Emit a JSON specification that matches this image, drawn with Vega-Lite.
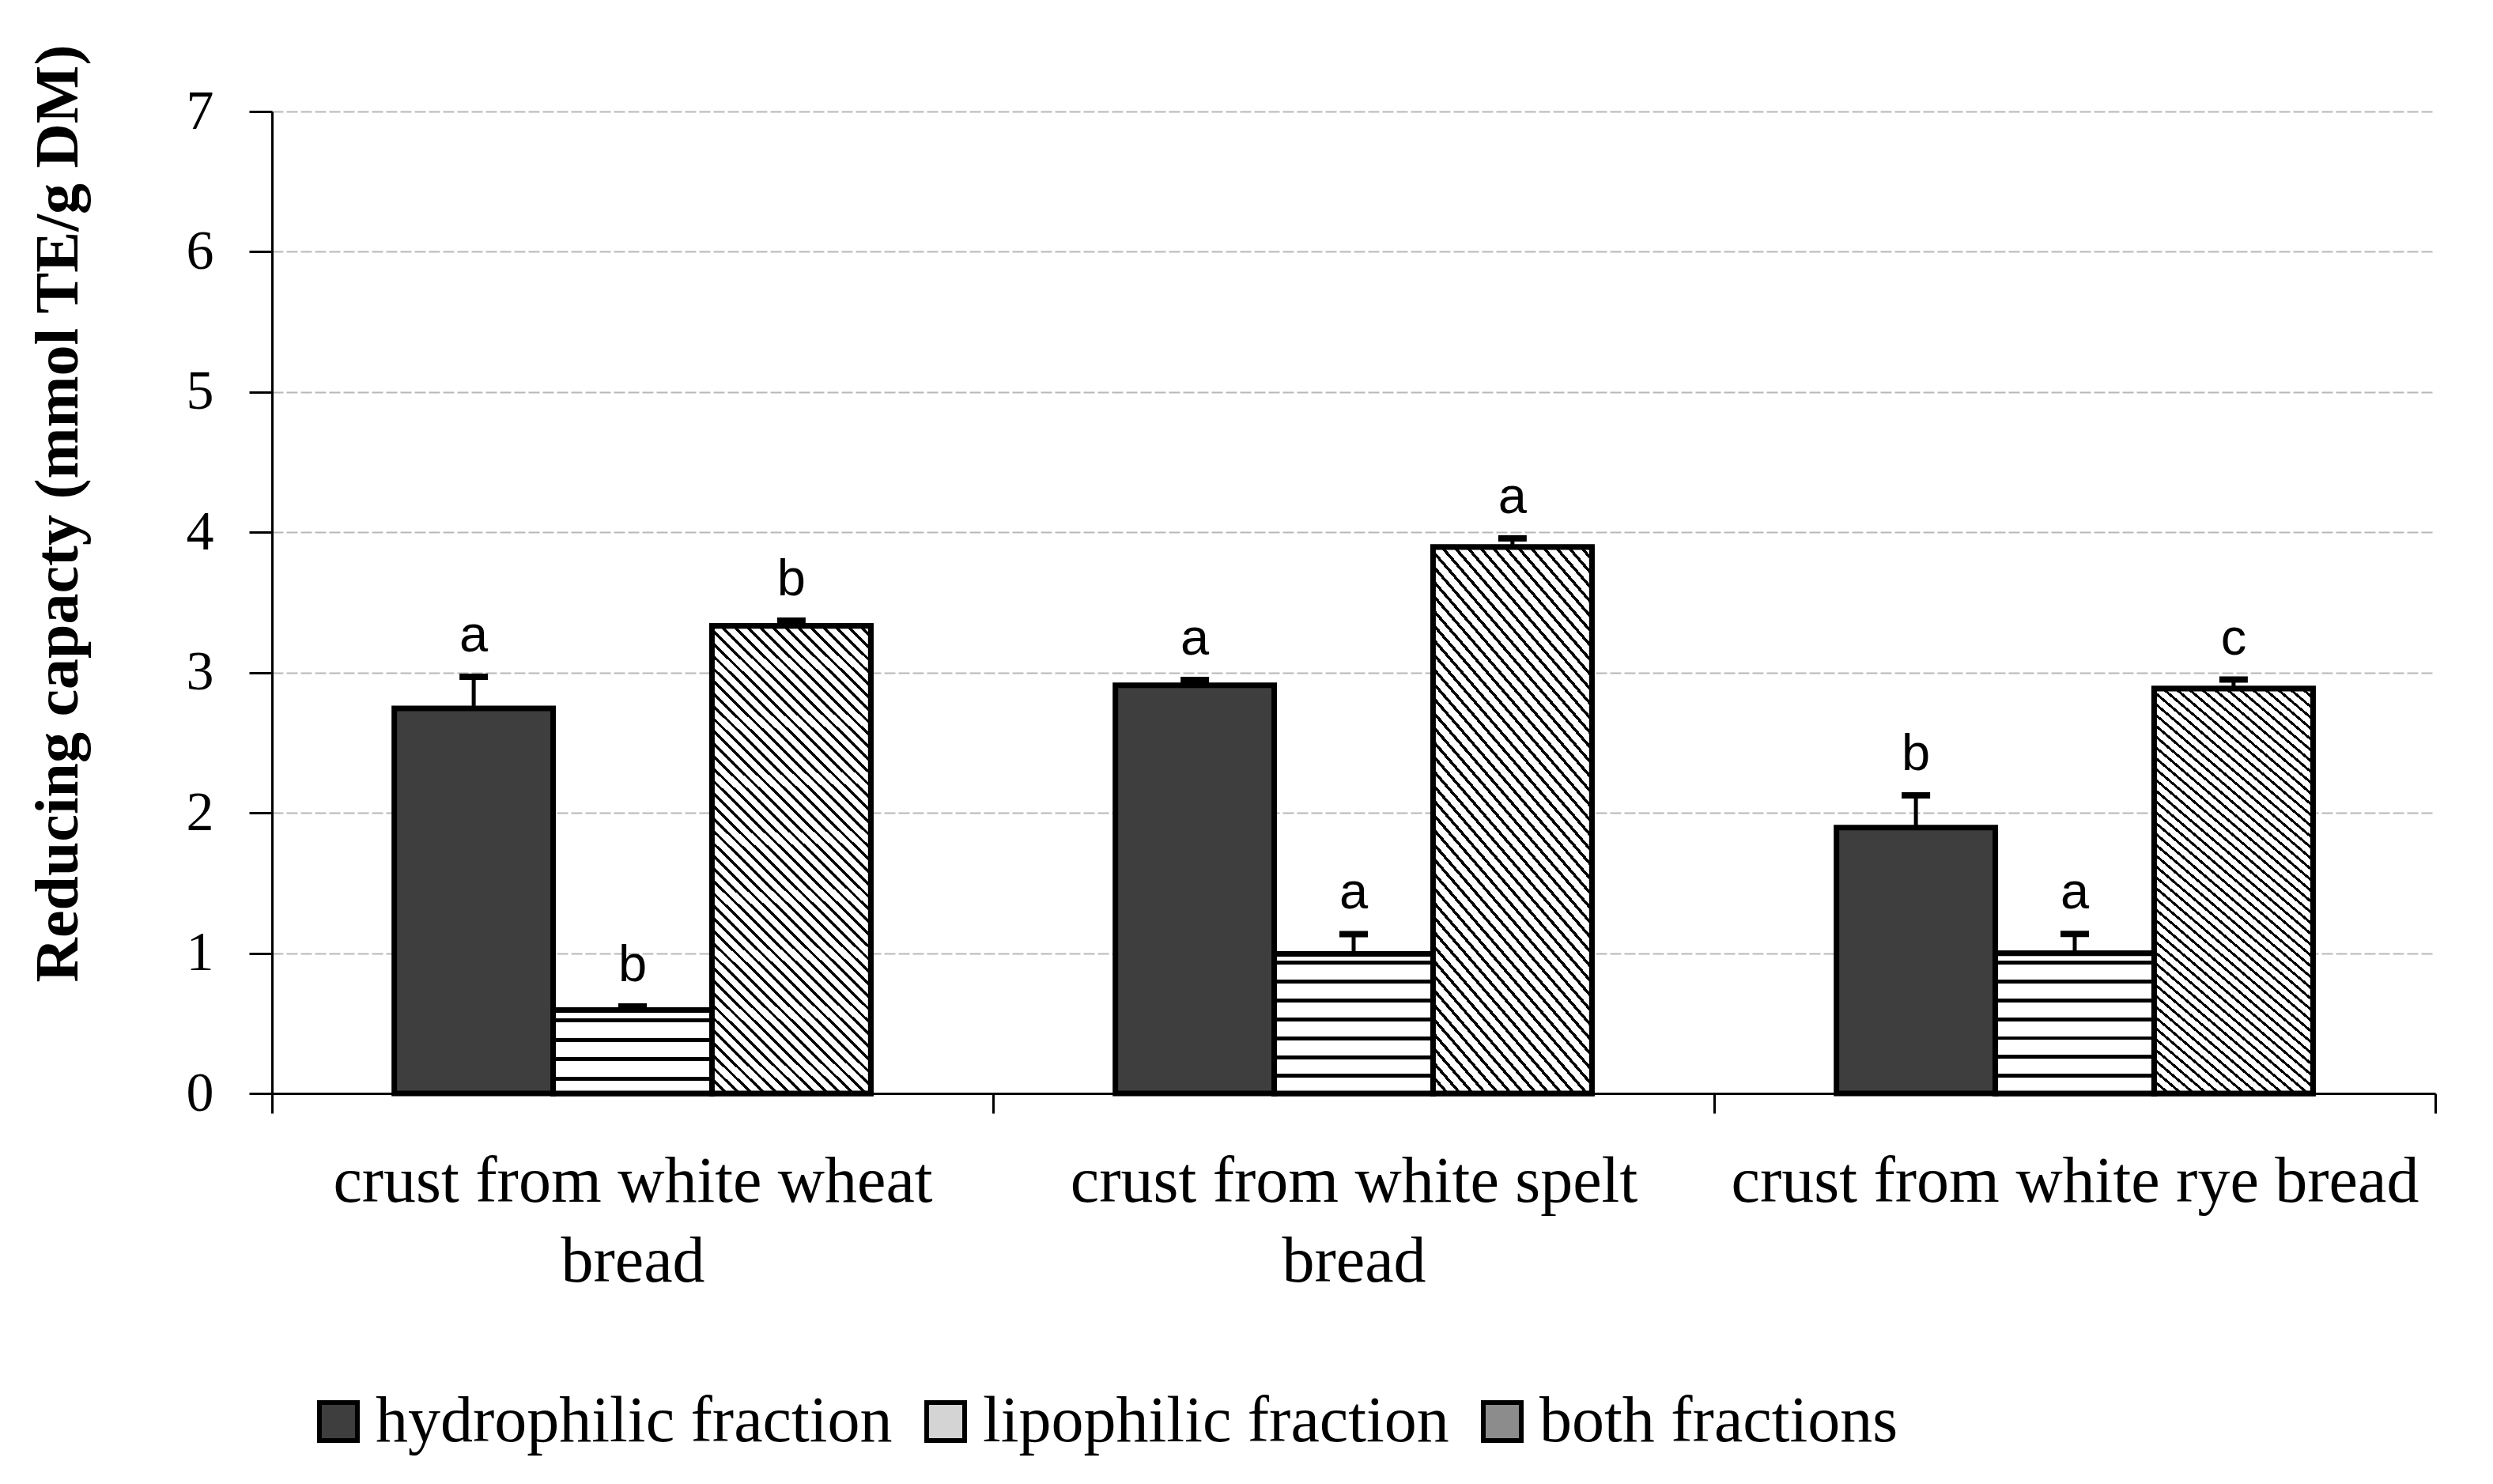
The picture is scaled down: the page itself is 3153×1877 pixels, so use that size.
{
"$schema": "https://vega.github.io/schema/vega-lite/v6.json",
"width": 2736,
"height": 1242,
"autosize": {"type": "none"},
"padding": {"left": 344, "top": 141, "right": 73, "bottom": 494},
"background": "white",
"config": {"view": {"stroke": null}},
"data": {"values": [
{"sample": "crust from white wheat bread", "fraction": "hydrophilic fraction", "mean": 2.745, "upper": 2.97, "letter": "a"},
{"sample": "crust from white wheat bread", "fraction": "lipophilic fraction", "mean": 0.594, "upper": 0.62, "letter": "b"},
{"sample": "crust from white wheat bread", "fraction": "both fractions", "mean": 3.333, "upper": 3.37, "letter": "b"},
{"sample": "crust from white spelt bread", "fraction": "hydrophilic fraction", "mean": 2.909, "upper": 2.948, "letter": "a"},
{"sample": "crust from white spelt bread", "fraction": "lipophilic fraction", "mean": 0.995, "upper": 1.136, "letter": "a"},
{"sample": "crust from white spelt bread", "fraction": "both fractions", "mean": 3.895, "upper": 3.956, "letter": "a"},
{"sample": "crust from white rye bread", "fraction": "hydrophilic fraction", "mean": 1.895, "upper": 2.125, "letter": "b"},
{"sample": "crust from white rye bread", "fraction": "lipophilic fraction", "mean": 0.999, "upper": 1.137, "letter": "a"},
{"sample": "crust from white rye bread", "fraction": "both fractions", "mean": 2.886, "upper": 2.95, "letter": "c"}
]},
"encoding": {
"x": {"field": "sample", "type": "nominal",
 "sort": ["crust from white wheat bread", "crust from white spelt bread", "crust from white rye bread"],
 "scale": {"domain": ["crust from white wheat bread", "crust from white spelt bread", "crust from white rye bread"], "paddingInner": 0, "paddingOuter": 0},
 "axis": {"title": null, "labelAngle": 0, "labelFont": "Liberation Serif", "labelFontSize": 82, "labelColor": "black",
  "labelBaseline": "alphabetic", "labelPadding": 111, "labelLineHeight": 101, "labelLimit": 3000, "labelOverlap": false,
  "labelExpr": "datum.value == 'crust from white wheat bread' ? ['crust from white wheat', 'bread'] : datum.value == 'crust from white spelt bread' ? ['crust from white spelt', 'bread'] : datum.value",
  "tickBand": "extent", "tickSize": 25, "tickColor": "black", "tickWidth": 3,
  "domainColor": "black", "domainWidth": 3, "grid": false}},
"xOffset": {"field": "fraction", "type": "nominal",
 "sort": ["hydrophilic fraction", "lipophilic fraction", "both fractions"],
 "scale": {"domain": ["hydrophilic fraction", "lipophilic fraction", "both fractions"], "paddingInner": 0, "paddingOuter": 0.77}},
"y": {"field": "mean", "type": "quantitative", "title": "Reducing capacty (mmol TE/g DM)",
   "scale": {"domain": [0, 7], "nice": false, "zero": true},
   "axis": {"title": "Reducing capacty (mmol TE/g DM)", "titleFont": "Liberation Serif", "titleFontSize": 78, "titleFontWeight": "bold", "titleColor": "black",
    "titleAngle": -90, "titleAlign": "center", "titleBaseline": "alphabetic", "titleX": -247, "titleY": 508,
    "values": [0, 1, 2, 3, 4, 5, 6, 7], "labelFont": "Liberation Serif", "labelFontSize": 70, "labelColor": "black", "labelPadding": 45,
    "tickSize": 29, "tickColor": "black", "tickWidth": 3, "domainColor": "black", "domainWidth": 3,
    "grid": true, "gridColor": "#b8b8b8", "gridDash": [14, 4], "gridWidth": 2}}
},
"layer": [
{"mark": {"type": "bar", "stroke": "black", "strokeWidth": 7},
 "encoding": {
  "color": {"field": "fraction", "type": "nominal",
   "sort": ["hydrophilic fraction", "lipophilic fraction", "both fractions"],
   "scale": {"domain": ["hydrophilic fraction", "lipophilic fraction", "both fractions"], "range": ["#3e3e3e", "#d4d4d4", "#8c8c8c"]},
   "legend": {"orient": "none", "legendX": 43, "legendY": 1616, "direction": "horizontal", "title": null,
    "symbolType": "square", "symbolSize": 2304, "symbolStrokeColor": "black", "symbolStrokeWidth": 6, "symbolOpacity": 1,
    "labelFont": "Liberation Serif", "labelFontSize": 82, "labelColor": "black", "labelOffset": 6, "columnPadding": 26, "labelLimit": 2000}}
 }},
{"transform": [{"filter": "datum.fraction == 'lipophilic fraction' && datum.sample != 'crust from white wheat bread'"}],
 "mark": {"type": "bar", "stroke": "black", "strokeWidth": 7,
  "fill": {"gradient": "linear", "x1": 0, "y1": 0, "x2": 0, "y2": 1, "stops": [
      {"offset": 0, "color": "#fff"},
      {"offset": 0.051, "color": "#fff"}, {"offset": 0.051, "color": "#000"}, {"offset": 0.079, "color": "#000"}, {"offset": 0.079, "color": "#fff"},
      {"offset": 0.186, "color": "#fff"}, {"offset": 0.186, "color": "#000"}, {"offset": 0.214, "color": "#000"}, {"offset": 0.214, "color": "#fff"},
      {"offset": 0.321, "color": "#fff"}, {"offset": 0.321, "color": "#000"}, {"offset": 0.349, "color": "#000"}, {"offset": 0.349, "color": "#fff"},
      {"offset": 0.456, "color": "#fff"}, {"offset": 0.456, "color": "#000"}, {"offset": 0.484, "color": "#000"}, {"offset": 0.484, "color": "#fff"},
      {"offset": 0.591, "color": "#fff"}, {"offset": 0.591, "color": "#000"}, {"offset": 0.619, "color": "#000"}, {"offset": 0.619, "color": "#fff"},
      {"offset": 0.726, "color": "#fff"}, {"offset": 0.726, "color": "#000"}, {"offset": 0.754, "color": "#000"}, {"offset": 0.754, "color": "#fff"},
      {"offset": 0.861, "color": "#fff"}, {"offset": 0.861, "color": "#000"}, {"offset": 0.889, "color": "#000"}, {"offset": 0.889, "color": "#fff"},
      {"offset": 1, "color": "#fff"}]}},
 "encoding": {}},
{"transform": [{"filter": "datum.fraction == 'lipophilic fraction' && datum.sample == 'crust from white wheat bread'"}],
 "mark": {"type": "bar", "stroke": "black", "strokeWidth": 7,
  "fill": {"gradient": "linear", "x1": 0, "y1": 0, "x2": 0, "y2": 1, "stops": [
      {"offset": 0, "color": "#fff"},
      {"offset": 0.095, "color": "#fff"}, {"offset": 0.095, "color": "#000"}, {"offset": 0.143, "color": "#000"}, {"offset": 0.143, "color": "#fff"},
      {"offset": 0.332, "color": "#fff"}, {"offset": 0.332, "color": "#000"}, {"offset": 0.380, "color": "#000"}, {"offset": 0.380, "color": "#fff"},
      {"offset": 0.565, "color": "#fff"}, {"offset": 0.565, "color": "#000"}, {"offset": 0.613, "color": "#000"}, {"offset": 0.613, "color": "#fff"},
      {"offset": 0.798, "color": "#fff"}, {"offset": 0.798, "color": "#000"}, {"offset": 0.846, "color": "#000"}, {"offset": 0.846, "color": "#fff"},
      {"offset": 1, "color": "#fff"}]}},
 "encoding": {}},
{"transform": [{"filter": "datum.fraction == 'both fractions'"}],
 "mark": {"type": "bar", "stroke": "black", "strokeWidth": 7,
  "fill": {"gradient": "linear", "x1": 0, "y1": 1, "x2": 0.402, "y2": -0.2, "stops": [
      {"offset":0,"color":"#000"},{"offset":0.006,"color":"#000"},{"offset":0.006,"color":"#fff"},{"offset":0.02,"color":"#fff"},
      {"offset":0.02,"color":"#000"},{"offset":0.026,"color":"#000"},{"offset":0.026,"color":"#fff"},{"offset":0.04,"color":"#fff"},
      {"offset":0.04,"color":"#000"},{"offset":0.046,"color":"#000"},{"offset":0.046,"color":"#fff"},{"offset":0.06,"color":"#fff"},
      {"offset":0.06,"color":"#000"},{"offset":0.066,"color":"#000"},{"offset":0.066,"color":"#fff"},{"offset":0.08,"color":"#fff"},
      {"offset":0.08,"color":"#000"},{"offset":0.086,"color":"#000"},{"offset":0.086,"color":"#fff"},{"offset":0.1,"color":"#fff"},
      {"offset":0.1,"color":"#000"},{"offset":0.106,"color":"#000"},{"offset":0.106,"color":"#fff"},{"offset":0.12,"color":"#fff"},
      {"offset":0.12,"color":"#000"},{"offset":0.126,"color":"#000"},{"offset":0.126,"color":"#fff"},{"offset":0.14,"color":"#fff"},
      {"offset":0.14,"color":"#000"},{"offset":0.146,"color":"#000"},{"offset":0.146,"color":"#fff"},{"offset":0.16,"color":"#fff"},
      {"offset":0.16,"color":"#000"},{"offset":0.166,"color":"#000"},{"offset":0.166,"color":"#fff"},{"offset":0.18,"color":"#fff"},
      {"offset":0.18,"color":"#000"},{"offset":0.186,"color":"#000"},{"offset":0.186,"color":"#fff"},{"offset":0.2,"color":"#fff"},
      {"offset":0.2,"color":"#000"},{"offset":0.206,"color":"#000"},{"offset":0.206,"color":"#fff"},{"offset":0.22,"color":"#fff"},
      {"offset":0.22,"color":"#000"},{"offset":0.226,"color":"#000"},{"offset":0.226,"color":"#fff"},{"offset":0.24,"color":"#fff"},
      {"offset":0.24,"color":"#000"},{"offset":0.246,"color":"#000"},{"offset":0.246,"color":"#fff"},{"offset":0.26,"color":"#fff"},
      {"offset":0.26,"color":"#000"},{"offset":0.266,"color":"#000"},{"offset":0.266,"color":"#fff"},{"offset":0.28,"color":"#fff"},
      {"offset":0.28,"color":"#000"},{"offset":0.286,"color":"#000"},{"offset":0.286,"color":"#fff"},{"offset":0.3,"color":"#fff"},
      {"offset":0.3,"color":"#000"},{"offset":0.306,"color":"#000"},{"offset":0.306,"color":"#fff"},{"offset":0.32,"color":"#fff"},
      {"offset":0.32,"color":"#000"},{"offset":0.326,"color":"#000"},{"offset":0.326,"color":"#fff"},{"offset":0.34,"color":"#fff"},
      {"offset":0.34,"color":"#000"},{"offset":0.346,"color":"#000"},{"offset":0.346,"color":"#fff"},{"offset":0.36,"color":"#fff"},
      {"offset":0.36,"color":"#000"},{"offset":0.366,"color":"#000"},{"offset":0.366,"color":"#fff"},{"offset":0.38,"color":"#fff"},
      {"offset":0.38,"color":"#000"},{"offset":0.386,"color":"#000"},{"offset":0.386,"color":"#fff"},{"offset":0.4,"color":"#fff"},
      {"offset":0.4,"color":"#000"},{"offset":0.406,"color":"#000"},{"offset":0.406,"color":"#fff"},{"offset":0.42,"color":"#fff"},
      {"offset":0.42,"color":"#000"},{"offset":0.426,"color":"#000"},{"offset":0.426,"color":"#fff"},{"offset":0.44,"color":"#fff"},
      {"offset":0.44,"color":"#000"},{"offset":0.446,"color":"#000"},{"offset":0.446,"color":"#fff"},{"offset":0.46,"color":"#fff"},
      {"offset":0.46,"color":"#000"},{"offset":0.466,"color":"#000"},{"offset":0.466,"color":"#fff"},{"offset":0.48,"color":"#fff"},
      {"offset":0.48,"color":"#000"},{"offset":0.486,"color":"#000"},{"offset":0.486,"color":"#fff"},{"offset":0.5,"color":"#fff"},
      {"offset":0.5,"color":"#000"},{"offset":0.506,"color":"#000"},{"offset":0.506,"color":"#fff"},{"offset":0.52,"color":"#fff"},
      {"offset":0.52,"color":"#000"},{"offset":0.526,"color":"#000"},{"offset":0.526,"color":"#fff"},{"offset":0.54,"color":"#fff"},
      {"offset":0.54,"color":"#000"},{"offset":0.546,"color":"#000"},{"offset":0.546,"color":"#fff"},{"offset":0.56,"color":"#fff"},
      {"offset":0.56,"color":"#000"},{"offset":0.566,"color":"#000"},{"offset":0.566,"color":"#fff"},{"offset":0.58,"color":"#fff"},
      {"offset":0.58,"color":"#000"},{"offset":0.586,"color":"#000"},{"offset":0.586,"color":"#fff"},{"offset":0.6,"color":"#fff"},
      {"offset":0.6,"color":"#000"},{"offset":0.606,"color":"#000"},{"offset":0.606,"color":"#fff"},{"offset":0.62,"color":"#fff"},
      {"offset":0.62,"color":"#000"},{"offset":0.626,"color":"#000"},{"offset":0.626,"color":"#fff"},{"offset":0.64,"color":"#fff"},
      {"offset":0.64,"color":"#000"},{"offset":0.646,"color":"#000"},{"offset":0.646,"color":"#fff"},{"offset":0.66,"color":"#fff"},
      {"offset":0.66,"color":"#000"},{"offset":0.666,"color":"#000"},{"offset":0.666,"color":"#fff"},{"offset":0.68,"color":"#fff"},
      {"offset":0.68,"color":"#000"},{"offset":0.686,"color":"#000"},{"offset":0.686,"color":"#fff"},{"offset":0.7,"color":"#fff"},
      {"offset":0.7,"color":"#000"},{"offset":0.706,"color":"#000"},{"offset":0.706,"color":"#fff"},{"offset":0.72,"color":"#fff"},
      {"offset":0.72,"color":"#000"},{"offset":0.726,"color":"#000"},{"offset":0.726,"color":"#fff"},{"offset":0.74,"color":"#fff"},
      {"offset":0.74,"color":"#000"},{"offset":0.746,"color":"#000"},{"offset":0.746,"color":"#fff"},{"offset":0.76,"color":"#fff"},
      {"offset":0.76,"color":"#000"},{"offset":0.766,"color":"#000"},{"offset":0.766,"color":"#fff"},{"offset":0.78,"color":"#fff"},
      {"offset":0.78,"color":"#000"},{"offset":0.786,"color":"#000"},{"offset":0.786,"color":"#fff"},{"offset":0.8,"color":"#fff"},
      {"offset":0.8,"color":"#000"},{"offset":0.806,"color":"#000"},{"offset":0.806,"color":"#fff"},{"offset":0.82,"color":"#fff"},
      {"offset":0.82,"color":"#000"},{"offset":0.826,"color":"#000"},{"offset":0.826,"color":"#fff"},{"offset":0.84,"color":"#fff"},
      {"offset":0.84,"color":"#000"},{"offset":0.846,"color":"#000"},{"offset":0.846,"color":"#fff"},{"offset":0.86,"color":"#fff"},
      {"offset":0.86,"color":"#000"},{"offset":0.866,"color":"#000"},{"offset":0.866,"color":"#fff"},{"offset":0.88,"color":"#fff"},
      {"offset":0.88,"color":"#000"},{"offset":0.886,"color":"#000"},{"offset":0.886,"color":"#fff"},{"offset":0.9,"color":"#fff"},
      {"offset":0.9,"color":"#000"},{"offset":0.906,"color":"#000"},{"offset":0.906,"color":"#fff"},{"offset":0.92,"color":"#fff"},
      {"offset":0.92,"color":"#000"},{"offset":0.926,"color":"#000"},{"offset":0.926,"color":"#fff"},{"offset":0.94,"color":"#fff"},
      {"offset":0.94,"color":"#000"},{"offset":0.946,"color":"#000"},{"offset":0.946,"color":"#fff"},{"offset":0.96,"color":"#fff"},
      {"offset":0.96,"color":"#000"},{"offset":0.966,"color":"#000"},{"offset":0.966,"color":"#fff"},{"offset":0.98,"color":"#fff"},
      {"offset":0.98,"color":"#000"},{"offset":0.986,"color":"#000"},{"offset":0.986,"color":"#fff"},{"offset":1,"color":"#fff"}]}},
 "encoding": {}},
{"mark": {"type": "rule", "color": "black", "strokeWidth": 5},
 "encoding": {"y2": {"field": "upper"}}},
{"mark": {"type": "tick", "color": "black", "thickness": 8, "size": 36, "opacity": 1},
 "encoding": {
  "y": {"field": "upper", "type": "quantitative", "title": "Reducing capacty (mmol TE/g DM)"}}},
{"mark": {"type": "text", "font": "Liberation Sans", "fontSize": 65, "dy": -32, "baseline": "alphabetic", "align": "center", "color": "black"},
 "encoding": {
  "y": {"field": "upper", "type": "quantitative", "title": "Reducing capacty (mmol TE/g DM)"},
  "text": {"field": "letter", "type": "nominal"}}}
]
}
